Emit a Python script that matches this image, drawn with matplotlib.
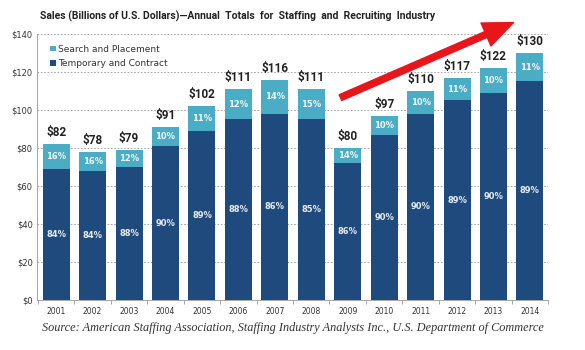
import matplotlib.pyplot as plt
import numpy as np

years = ['2001', '2002', '2003', '2004', '2005', '2006', '2007',
         '2008', '2009', '2010', '2011', '2012', '2013', '2014']
# billions of US dollars
temporary = [69, 68, 70, 81, 89, 95, 98, 95, 72, 87, 98, 105, 109, 115]
search = [13, 10, 9, 10, 13, 16, 18, 16, 8, 10, 12, 12, 13, 15]
totals = [82, 78, 79, 91, 102, 111, 116, 111, 80, 97, 110, 117, 122, 130]
temp_pct = [84, 84, 88, 90, 89, 88, 86, 85, 86, 90, 90, 89, 90, 89]
search_pct = [16, 16, 12, 10, 11, 12, 14, 15, 14, 10, 10, 11, 10, 11]

dark = '#1f4a7e'
light = '#4bacc6'

fig = plt.figure(figsize=(5.85, 3.5), dpi=100)
ax = fig.add_axes([0.063, 0.143, 0.874, 0.76])

x = np.arange(len(years))
b1 = ax.bar(x, temporary, width=0.74, color=dark, label='Temporary and Contract', zorder=2)
b2 = ax.bar(x, search, width=0.74, bottom=temporary, color=light,
            label='Search and Placement', zorder=2)

for i in range(len(years)):
    ax.text(x[i], temporary[i] / 2, f'{temp_pct[i]}%', ha='center', va='center',
            color='#e6ecf4', fontsize=6, fontweight='bold')
    ax.text(x[i], temporary[i] + search[i] / 2, f'{search_pct[i]}%', ha='center',
            va='center', color='#f0f8fb', fontsize=6, fontweight='bold')
    ax.text(x[i], totals[i] + 2.5, f'${totals[i]}', ha='center', va='bottom',
            color='#222222', fontsize=8.5, fontweight='bold', family='Roboto')

ax.set_xlim(-0.53, 13.45)
ax.set_ylim(0, 140)
ax.set_yticks(range(0, 141, 20))
ax.set_yticklabels([f'${v}' for v in range(0, 141, 20)], fontsize=6, color='#333333')
ax.set_xticks(x)
ax.set_xticklabels(years, fontsize=5.5, color='#333333')
ax.set_xticks(np.arange(-0.5, 14, 1), minor=True)
ax.tick_params(axis='x', which='major', length=0, pad=5)
ax.tick_params(axis='x', which='minor', length=3, color='#999999')
ax.tick_params(axis='y', length=0, pad=3)
ax.grid(axis='y', linestyle=(0, (2, 2)), color='#999999', linewidth=0.6, zorder=0)
for s in ['top', 'right']:
    ax.spines[s].set_visible(False)
ax.spines['left'].set_color('#999999')
ax.spines['bottom'].set_color('#999999')
ax.spines['left'].set_linewidth(0.6)
ax.spines['bottom'].set_linewidth(0.6)

leg = ax.legend(handles=[b2, b1], loc='upper left', frameon=False, fontsize=6.5,
                handlelength=0.6, handleheight=0.6, handletextpad=0.3,
                labelspacing=0.6, bbox_to_anchor=(0.01, 0.99))
for t in leg.get_texts():
    t.set_color('#333333')

fig.text(0.068, 0.952, 'Sales (Billions of U.S. Dollars)\u2014Annual  Totals  for  Staffing  and  Recruiting  Industry',
         fontsize=7.5, fontweight='bold', family='Roboto', color='#222222', ha='left', va='center')

# red trend arrow
ax.annotate('', xy=(12.55, 146), xytext=(7.8, 106.5), annotation_clip=False,
            arrowprops=dict(arrowstyle='simple,head_length=2.4,head_width=2.0,tail_width=0.5',
                            color='#e8161b', shrinkA=0, shrinkB=0, mutation_scale=9),
            zorder=5)

fig.text(0.5, 0.063, 'Source: American Staffing Association, Staffing Industry Analysts Inc., U.S. Department of Commerce',
         fontsize=8.8, family='Liberation Serif', style='italic', color='#333333',
         ha='center', va='center')

fig.savefig('out.png', dpi=100)
